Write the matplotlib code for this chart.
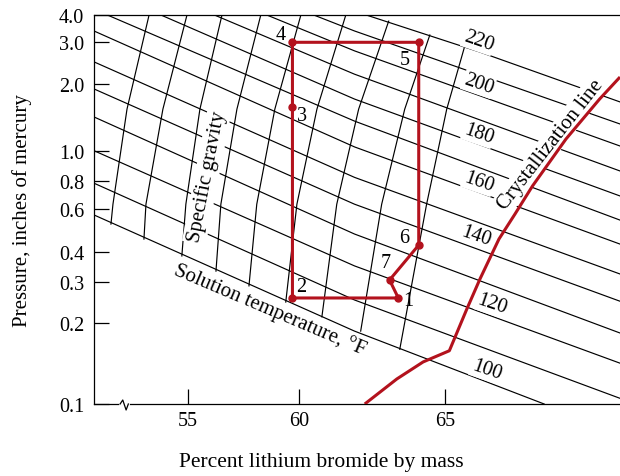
import numpy as np
import matplotlib
matplotlib.use("Agg")
import matplotlib.pyplot as plt
from matplotlib.ticker import FixedLocator, FixedFormatter, NullLocator

plt.rcParams['font.family'] = ['Liberation Serif', 'DejaVu Serif']

# solution temperature lines, deg F -> (percent LiBr, pressure in. Hg)
temps = [100, 110, 120, 130, 140, 150, 160, 170, 180, 190, 200, 210, 220]
temp_x = [
    [50.8, 61.9, 68.4],
    [50.8, 61.9, 71.0],
    [50.8, 61.9, 71.0],
    [50.8, 61.9, 71.0],
    [50.8, 61.9, 71.0],
    [50.8, 61.9, 71.0],
    [50.8, 61.9, 71.0],
    [51.4, 61.9, 71.0],
    [53.8, 61.9, 71.0],
    [56.2, 61.9, 71.0],
    [58.55, 61.9, 71.0],
    [60.5, 61.9, 71.0],
    [62.3, 66.19, 71.0],
]
temp_p = [
    [0.567, 0.187, 0.10],
    [0.78, 0.251, 0.105],
    [1.00, 0.349, 0.142],
    [1.42, 0.473, 0.184],
    [1.90, 0.63, 0.248],
    [2.48, 0.82, 0.323],
    [3.38, 1.04, 0.430],
    [4.0, 1.36, 0.54],
    [4.0, 1.71, 0.685],
    [4.0, 2.20, 0.86],
    [4.0, 2.76, 1.05],
    [4.0, 3.38, 1.32],
    [4.0, 2.73, 1.66],
]
temp_labels = ['220', '200', '180', '160', '140', '120', '100']

# specific gravity lines (top -> bottom)
sg_x = [
    [53.27, 52.28, 51.65, 51.56],
    [54.97, 53.89, 53.13, 53.04],
    [56.54, 55.55, 54.92, 54.74],
    [58.28, 57.21, 56.49, 56.27],
    [60.06, 58.91, 58.10, 57.75],
    [61.60, 60.61, 59.90, 59.40],
    [63.07, 62.04, 61.29, 60.78],
    [64.48, 63.62, 62.83, 62.11],
    [65.67, 65.06, 64.37, 63.45],
]
sg_p = [
    [4.0, 1.54, 0.63, 0.52],
    [4.0, 1.54, 0.63, 0.451],
    [4.0, 1.54, 0.63, 0.384],
    [4.0, 1.54, 0.63, 0.332],
    [4.0, 1.54, 0.63, 0.288],
    [4.0, 1.54, 0.63, 0.246],
    [3.75, 1.54, 0.63, 0.213],
    [3.24, 1.54, 0.63, 0.187],
    [2.87, 1.54, 0.63, 0.160],
]

# crystallization line
cryst_x = [62.25, 63.35, 64.25, 65.15, 65.75, 66.2, 66.85, 67.4, 68.0, 69.15, 70.3, 71.0]
cryst_p = [0.10, 0.124, 0.1435, 0.158, 0.23, 0.308, 0.451, 0.572, 0.758, 1.13, 1.71, 2.14]

# absorption cycle state points 1..7
cyc_names = ['1', '2', '3', '4', '5', '6', '7']
cyc_x = [63.4, 59.7, 59.7, 59.7, 64.1, 64.1, 63.1]
cyc_p = [0.256, 0.256, 1.57, 3.0, 3.0, 0.426, 0.305]

xticks = [55, 60, 65]
yticks = [0.1, 0.2, 0.3, 0.4, 0.6, 0.8, 1.0, 2.0, 3.0, 4.0]
ytick_labels = ['0.1', '0.2', '0.3', '0.4', '0.6', '0.8', '1.0', '2.0', '3.0', '4.0']

# the printed chart is not to a clean scale: tick positions (pixels) as printed
xtick_px = [187.7, 299.3, 445.3]
ytick_px = [405, 324.3, 282.7, 252.7, 210, 181.7, 151.7, 85, 43.3, 16]


def pw(v, a, b):
    v = np.asarray(v, float)
    a = np.asarray(a, float)
    b = np.asarray(b, float)
    out = np.interp(v, a, b)
    lo = b[0] + (v - a[0]) * (b[1] - b[0]) / (a[1] - a[0])
    hi = b[-1] + (v - a[-1]) * (b[-1] - b[-2]) / (a[-1] - a[-2])
    out = np.where(v < a[0], lo, out)
    out = np.where(v > a[-1], hi, out)
    return out


logt = np.log10(yticks)
ypos = -np.array(ytick_px)


def yf(p):
    return pw(np.log10(np.maximum(p, 1e-9)), logt, ypos)


def yi(v):
    return 10 ** pw(v, ypos, logt)


def xf(x):
    return pw(x, xticks, xtick_px)


def xi(v):
    return pw(v, xtick_px, xticks)


red = '#b3121d'
fig = plt.figure(figsize=(6.2, 4.77), dpi=100)
ax = fig.add_axes([94 / 620, 1 - 405 / 477, 1 - 94 / 620, (405 - 16) / 477])
ax.set_xscale('function', functions=(xf, xi))
ax.set_yscale('function', functions=(yf, yi))
ax.set_xlim(50.8, 71.0)
ax.set_ylim(0.1, 4.0)

for i in range(len(temps)):
    ax.plot(temp_x[i], temp_p[i], color='k', lw=0.85, zorder=2)
for i in range(len(sg_x)):
    ax.plot(sg_x[i], sg_p[i], color='k', lw=0.85, zorder=2)

ax.plot(cryst_x, cryst_p, color=red, lw=2.2, zorder=6, solid_capstyle='butt')

px = cyc_x + [cyc_x[0]]
pp = cyc_p + [cyc_p[0]]
ax.plot(px, pp, color=red, lw=2.2, zorder=6)
ax.plot(cyc_x, cyc_p, 'o', color=red, ms=5, zorder=7)
offs = [(10, -3), (9, 11), (10, -8), (-12, 8), (-14, -17), (-15, 8), (-4, 17)]
for i in range(len(cyc_names)):
    ax.annotate(cyc_names[i], (cyc_x[i], cyc_p[i]), xytext=offs[i], textcoords='offset pixels',
                ha='center', va='center', fontsize=14.5, zorder=8)

# temperature labels
lab_pos = [(66.15, 3.04), (66.15, 2.0), (66.15, 1.19), (66.15, 0.79), (66.08, 0.464), (66.6, 0.241), (66.43, 0.134)]
for t, (lx, ly) in zip(temp_labels, lab_pos):
    ax.text(lx, ly, t, rotation=-19, ha='center', va='center', fontsize=14.5, zorder=4,
            rotation_mode='anchor',
            bbox=dict(boxstyle='square,pad=0.05', fc='white', ec='none'))

ax.text(68.62, 1.07, 'Crystallization line', rotation=52, ha='center', va='center', fontsize=15,
        rotation_mode='anchor', zorder=5, bbox=dict(boxstyle='square,pad=0.1', fc='white', ec='none'))
ax.text(55.86, 0.83, 'Specific gravity', rotation=79, ha='center', va='center', fontsize=15,
        rotation_mode='anchor', zorder=5, bbox=dict(boxstyle='square,pad=0.1', fc='white', ec='none'))
ax.text(58.69, 0.230, 'Solution temperature, °F', rotation=-23, ha='center', va='center', fontsize=15,
        rotation_mode='anchor', zorder=5)

# axes look
ax.spines['right'].set_visible(False)
for s in ['left', 'bottom', 'top']:
    ax.spines[s].set_linewidth(0.9)
ax.xaxis.set_major_locator(FixedLocator(xticks))
ax.xaxis.set_major_formatter(FixedFormatter([str(v) for v in xticks]))
ax.yaxis.set_major_locator(FixedLocator(yticks))
ax.yaxis.set_major_formatter(FixedFormatter(ytick_labels))
ax.xaxis.set_minor_locator(NullLocator())
ax.yaxis.set_minor_locator(NullLocator())
ax.tick_params(axis='both', direction='in', length=11, width=0.9, labelsize=14.5)
ax.tick_params(axis='x', pad=5)
ax.tick_params(axis='y', pad=7)
ax.set_xlabel('Percent lithium bromide by mass', fontsize=15.5)
ax.set_ylabel('Pressure, inches of mercury', fontsize=15)
ax.xaxis.set_label_coords((321.5 - 94) / 526, -(462 - 405) / 389)
ax.yaxis.set_label_coords(-(94 - 22) / 526, 0.5)
ax.xaxis.label.set_va('center')
ax.yaxis.label.set_va('center')

# axis break mark on the x axis
tr = ax.get_xaxis_transform()
ax.plot([51.97, 52.34], [0, 0], color='white', lw=2, transform=tr, clip_on=False, zorder=3)
ax.plot([51.97, 52.09, 52.24, 52.34], [0, 0.0103, -0.0154, 0], color='k', lw=0.9,
        transform=tr, clip_on=False, zorder=4)

fig.savefig('out.png', dpi=100)
